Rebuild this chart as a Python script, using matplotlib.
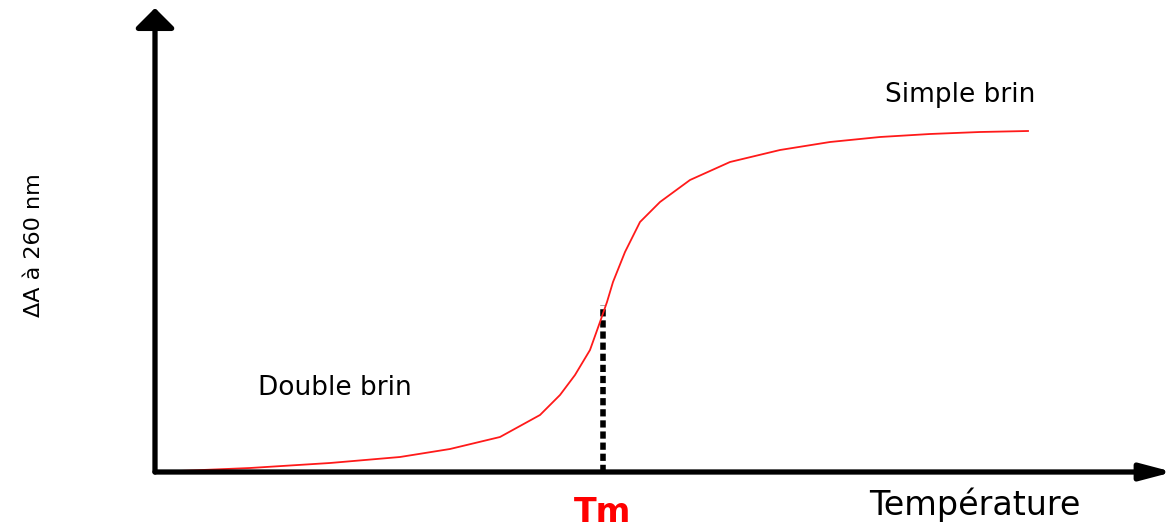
import numpy as np
import matplotlib.pyplot as plt

# melting curve (arbitrary units)
temperature = [0, 95, 175, 245, 295, 345, 385, 405, 420, 435, 445, 452, 458,
               470, 485, 505, 535, 575, 625, 675, 725, 775, 825, 873]
absorbance = [0, 4, 9, 15, 23, 35, 57, 77, 97, 122, 150, 170, 190,
              220, 250, 270, 292, 310, 322, 330, 335, 338, 340, 341]
tm = 448
tm_abs = 167

fig = plt.figure(figsize=(11.76, 5.29), dpi=100)
ax = fig.add_axes([155 / 1176, 57 / 529, 1021 / 1176, 472 / 529])
ax.set_xlim(0, 1021)
ax.set_ylim(0, 472)
ax.axis('off')

ax.plot(temperature, absorbance, color='#ff1a1a', linewidth=1.3, zorder=3)
ax.plot([tm, tm], [0, tm_abs], color='black', linewidth=4,
        linestyle=(0, (1.3, 0.7)), zorder=2)

# axes drawn as arrows
ax.annotate('', xy=(1018, 0), xytext=(0, 0), zorder=4,
            arrowprops=dict(arrowstyle='-|>,head_length=1.9,head_width=0.5',
                            color='black', linewidth=3.8, shrinkA=0, shrinkB=0))
ax.annotate('', xy=(0, 464), xytext=(0, 0), zorder=4,
            arrowprops=dict(arrowstyle='-|>,head_length=1.2,head_width=1.2',
                            color='black', linewidth=3.8, shrinkA=0, shrinkB=0))

ax.text(805, 377, 'Simple brin', fontsize=19, ha='center', va='center')
ax.text(180, 84, 'Double brin', fontsize=19, ha='center', va='center')
ax.text(820, -33, 'Température', fontsize=24, ha='center', va='center',
        clip_on=False)
ax.text(tm, -40, 'Tm', fontsize=24, fontweight='bold', color='red',
        ha='center', va='center', clip_on=False)
fig.text(34 / 1176, 1 - 245 / 529, 'ΔA à 260 nm', rotation=90,
         fontsize=16, ha='center', va='center',
         family=['Liberation Sans Narrow', 'DejaVu Sans'])

fig.savefig('out.png', dpi=100, facecolor='white')
